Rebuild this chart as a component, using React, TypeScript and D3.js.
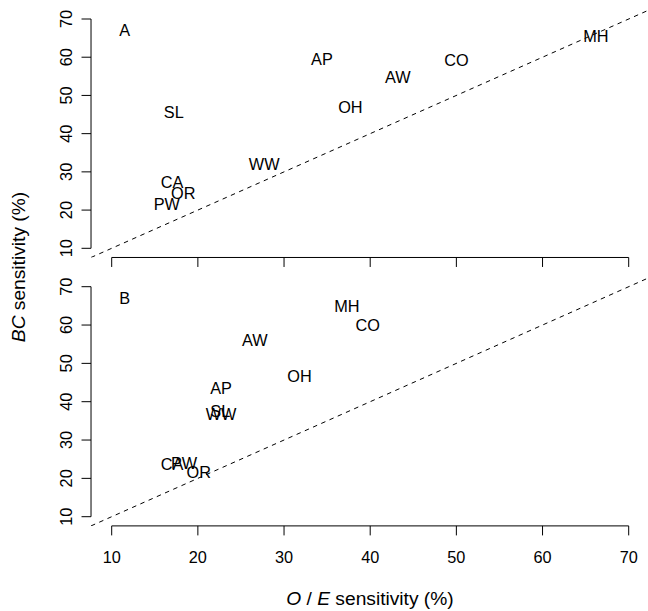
import React from "react";
import * as d3 from "d3";

// site codes, same order in both panels
const sites = ["AP", "AW", "CA", "CO", "MH", "OH", "OR", "PW", "SL", "WW"];

// panel A
const oeA = [34.4, 43.2, 17.0, 50.0, 66.2, 37.7, 18.3, 16.4, 17.2, 27.7];
const bcA = [59.5, 54.9, 27.3, 59.3, 65.4, 47.0, 24.5, 21.6, 45.7, 32.0];

// panel B
const oeB = [22.7, 26.6, 17.0, 39.7, 37.3, 31.8, 20.1, 18.4, 22.6, 22.7];
const bcB = [43.6, 56.0, 23.7, 60.0, 65.0, 46.6, 21.5, 24.1, 37.6, 36.7];

const ticks = [10, 20, 30, 40, 50, 60, 70];

const width = 648;
const height = 611;
const font = "'Liberation Sans', Arial, Helvetica, sans-serif";
const fs = 16.3;
const titleFs = 19.2;

const x = d3.scaleLinear().domain([10, 70]).range([111.7, 628.7]);
const lim: [number, number] = [7.6, 72.4];

const Panel = ({ oe, bc, y, tag, showLabels }: any) => {
  const x0 = x(lim[0]);
  const yb = y(lim[0]);
  return (
    <g>
      <defs>
        <clipPath id={`clip-${tag}`}>
          <rect x={x0} y={y(lim[1])} width={x(lim[1]) - x0} height={yb - y(lim[1])} />
        </clipPath>
      </defs>
      <line
        clipPath={`url(#clip-${tag})`}
        x1={x(lim[0])}
        y1={y(lim[0])}
        x2={x(lim[1])}
        y2={y(lim[1])}
        stroke="#000"
        strokeWidth={1}
        strokeDasharray="4.5,4.5"
      />
      {/* x axis */}
      <line x1={x(10)} x2={x(70)} y1={yb} y2={yb} stroke="#000" />
      {ticks.map((t) => (
        <g key={"x" + t}>
          <line x1={x(t)} x2={x(t)} y1={yb} y2={yb + 9.5} stroke="#000" />
          {showLabels && (
            <text x={x(t)} y={yb + 37} textAnchor="middle" fontSize={fs}>
              {t}
            </text>
          )}
        </g>
      ))}
      {/* y axis */}
      <line x1={x0} x2={x0} y1={y(10)} y2={y(70)} stroke="#000" />
      {ticks.map((t) => (
        <g key={"y" + t}>
          <line x1={x0 - 9.5} x2={x0} y1={y(t)} y2={y(t)} stroke="#000" />
          <text
            transform={`translate(${x0 - 19.5},${y(t)}) rotate(-90)`}
            textAnchor="middle"
            fontSize={fs}
          >
            {t}
          </text>
        </g>
      ))}
      <text x={x(11.5)} y={y(67.1)} dy="0.36em" textAnchor="middle" fontSize={fs}>
        {tag}
      </text>
      {sites.map((s, i) => (
        <text key={s} x={x(oe[i])} y={y(bc[i])} dy="0.36em" textAnchor="middle" fontSize={fs}>
          {s}
        </text>
      ))}
    </g>
  );
};

export default function App() {
  const yTop = d3.scaleLinear().domain([10, 70]).range([248.3, 19]);
  const yBot = d3.scaleLinear().domain([10, 70]).range([516.7, 286.7]);
  return (
    <svg
      width={width}
      height={height}
      style={{ position: "absolute", left: 0, top: 0, background: "#fff" }}
      fontFamily={font}
    >
      <Panel oe={oeA} bc={bcA} y={yTop} tag="A" showLabels={false} />
      <Panel oe={oeB} bc={bcB} y={yBot} tag="B" showLabels={true} />
      <text x={370} y={605} textAnchor="middle" fontSize={titleFs}>
        <tspan fontStyle="italic">O</tspan>
        <tspan> / </tspan>
        <tspan fontStyle="italic">E</tspan>
        <tspan> sensitivity (%)</tspan>
      </text>
      <text transform="translate(25,267) rotate(-90)" textAnchor="middle" fontSize={titleFs}>
        <tspan fontStyle="italic">BC</tspan>
        <tspan> sensitivity (%)</tspan>
      </text>
    </svg>
  );
}
